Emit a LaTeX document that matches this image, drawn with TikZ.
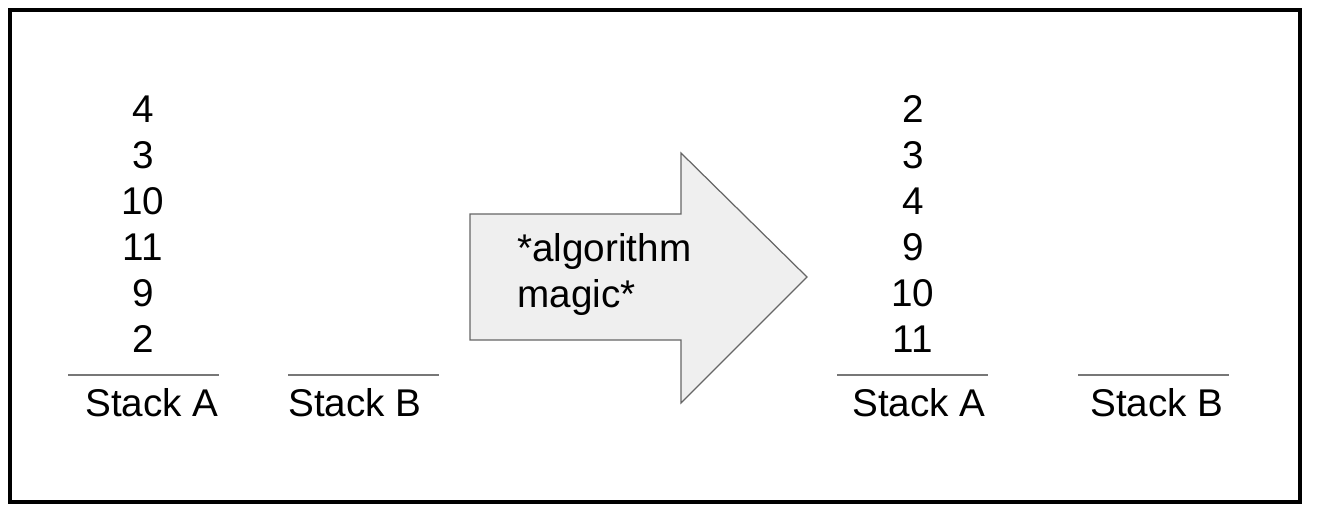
\documentclass[tikz,border=0pt]{standalone}
\usepackage{fontspec}
\setmainfont{Liberation Sans}
\usepackage{xcolor}
\usepackage{tikz}
\definecolor{rulegray}{HTML}{777777}
\definecolor{arrowfill}{HTML}{EFEFEF}
\definecolor{arrowline}{HTML}{666666}
\tikzset{
  num/.style={anchor=base, inner sep=0pt, font=\fontsize{22}{26}\selectfont},
  stacklabel/.style={anchor=base, inner sep=0pt, font=\fontsize{22}{26}\selectfont},
  stackrule/.style={color=rulegray, line width=0.9pt}
}
\begin{document}
\begin{tikzpicture}[x=0.02cm, y=-0.02cm]
                    \useasboundingbox (0,0) rectangle (1320,518);
                    \draw[line width=2.8pt] (10,10) rectangle (1300,502);

                    \node[num] (a1) at (143,122) {4};
                    \node[num] (a2) at (143,168) {3};
                    \node[num] (a3) at (143,214) {10};
                    \node[num] (a4) at (143,260) {11};
                    \node[num] (a5) at (143,306) {9};
                    \node[num] (a6) at (143,352) {2};
                    \draw[stackrule] (68,375) -- (219,375);
                    \draw[stackrule] (288,375) -- (439,375);
                    \node[stacklabel] (sa) at (152,416) {Stack A};
                    \node[stacklabel] (sb) at (355,416) {Stack B};

                    \draw[color=arrowline, fill=arrowfill, line width=0.7pt]
                        (470,214) -- (681,214) -- (681,153) -- (807,277)
                        -- (681,403) -- (681,340) -- (470,340) -- cycle;
                    \node[anchor=base west, inner sep=0pt, align=left,
                          font=\fontsize{22}{26}\selectfont] (magic) at (517,307)
                        {*algorithm\\magic*};

                    \node[num] (b1) at (913,122) {2};
                    \node[num] (b2) at (913,168) {3};
                    \node[num] (b3) at (913,214) {4};
                    \node[num] (b4) at (913,260) {9};
                    \node[num] (b5) at (913,306) {10};
                    \node[num] (b6) at (913,352) {11};
                    \draw[stackrule] (837,375) -- (988,375);
                    \draw[stackrule] (1078,375) -- (1229,375);
                    \node[stacklabel] (sa2) at (919,416) {Stack A};
                    \node[stacklabel] (sb2) at (1157,416) {Stack B};
                \end{tikzpicture}
\end{document}
